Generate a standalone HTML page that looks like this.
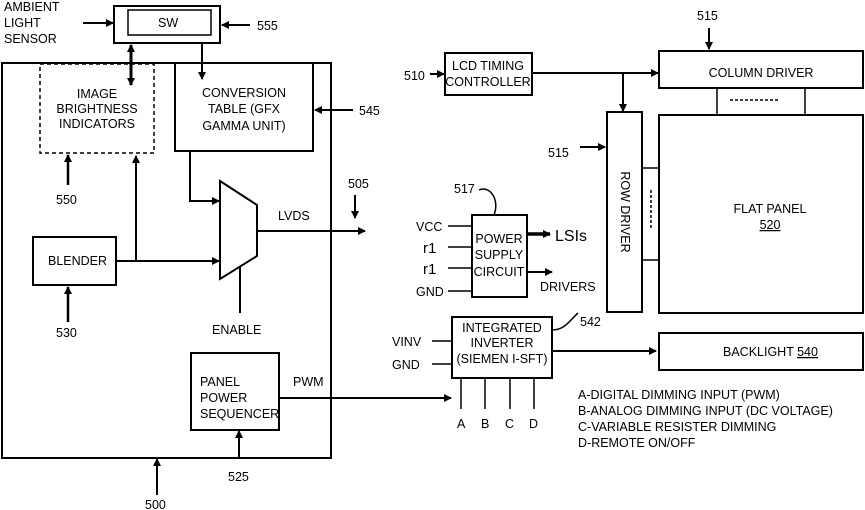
<!DOCTYPE html>
<html><head><style>
body{margin:0;background:#fff;}
svg{display:block;font-family:"Liberation Sans",sans-serif;font-size:12px;}
text{fill:#000;}
</style></head><body>
<svg width="865" height="510" viewBox="0 0 865 510">
<defs>
<marker id="a" markerWidth="8" markerHeight="8" refX="7" refY="4" orient="auto" markerUnits="userSpaceOnUse"><path d="M0,0 L8,4 L0,8z" fill="#000"/></marker>
</defs>
<g stroke="#000" stroke-width="2" fill="none">
<rect x="114" y="6" width="106" height="37"/>
<rect x="128" y="10" width="83" height="25" stroke-width="1.5"/>
<line x1="83" y1="23" x2="113" y2="23" marker-end="url(#a)"/>
<line x1="250" y1="25" x2="222" y2="25" marker-end="url(#a)"/>
<rect x="2" y="63" width="329" height="395"/>
<rect x="40" y="64" width="114" height="89" stroke-dasharray="4,3" stroke-width="1.5"/>
<line x1="131" y1="55" x2="131" y2="85" stroke-width="3" marker-end="url(#a)"/>
<line x1="131" y1="75" x2="131" y2="45" stroke-width="3" marker-end="url(#a)"/>
<rect x="175" y="63" width="138" height="88"/>
<line x1="202" y1="43" x2="202" y2="79" marker-end="url(#a)"/>
<line x1="353" y1="110" x2="315" y2="110" marker-end="url(#a)"/>
<line x1="68" y1="185" x2="68" y2="155" stroke-width="2.5" marker-end="url(#a)"/>
<path d="M220,181 L257,205 L257,256 L220,279 Z"/>
<polyline points="190,151 190,201 219,201" marker-end="url(#a)"/>
<rect x="33" y="237" width="83" height="48"/>
<line x1="116" y1="261" x2="219" y2="261" marker-end="url(#a)"/>
<line x1="136" y1="261" x2="136" y2="156" marker-end="url(#a)"/>
<line x1="257" y1="231" x2="365" y2="231" marker-end="url(#a)"/>
<line x1="355" y1="195" x2="355" y2="218" marker-end="url(#a)"/>
<line x1="240" y1="267" x2="240" y2="313"/>
<line x1="68" y1="322" x2="68" y2="287" stroke-width="2.5" marker-end="url(#a)"/>
<rect x="191" y="353" width="88" height="77"/>
<line x1="279" y1="398" x2="451" y2="398" marker-end="url(#a)"/>
<line x1="239" y1="458" x2="239" y2="431" marker-end="url(#a)"/>
<line x1="157" y1="495" x2="157" y2="459" marker-end="url(#a)"/>
<rect x="445" y="53" width="87" height="42"/>
<line x1="430" y1="74" x2="444" y2="74" marker-end="url(#a)"/>
<line x1="532" y1="73" x2="658" y2="73" marker-end="url(#a)"/>
<line x1="623" y1="73" x2="623" y2="111" marker-end="url(#a)"/>
<rect x="659" y="51" width="204" height="37"/>
<line x1="709" y1="28" x2="709" y2="49" marker-end="url(#a)"/>
<rect x="717" y="88" width="88" height="27" stroke-width="1.5"/>
<line x1="730" y1="100" x2="778" y2="100" stroke-width="1.5" stroke-dasharray="3,2"/>
<rect x="659" y="115" width="204" height="198"/>
<rect x="607" y="112" width="35" height="200"/>
<line x1="580" y1="147" x2="605" y2="147" marker-end="url(#a)"/>
<rect x="642" y="168" width="17" height="92" stroke-width="1.5"/>
<line x1="651" y1="190" x2="651" y2="230" stroke-width="1.5" stroke-dasharray="3,2"/>
<rect x="472" y="215" width="55" height="82"/>
<path d="M479,190 C490,185 500,200 494,215" stroke-width="1.5"/>
<line x1="448" y1="226" x2="472" y2="226" stroke-width="1.5"/>
<line x1="448" y1="247" x2="472" y2="247" stroke-width="1.5"/>
<line x1="448" y1="268" x2="472" y2="268" stroke-width="1.5"/>
<line x1="448" y1="291" x2="472" y2="291" stroke-width="1.5"/>
<line x1="527" y1="234" x2="550" y2="234" stroke-width="3.5" marker-end="url(#a)"/>
<line x1="527" y1="272" x2="552" y2="272" marker-end="url(#a)"/>
<rect x="452" y="317" width="100" height="61"/>
<path d="M552,330 C565,330 570,320 578,313" stroke-width="1.5"/>
<line x1="432" y1="341" x2="452" y2="341" stroke-width="1.5"/>
<line x1="432" y1="364" x2="452" y2="364" stroke-width="1.5"/>
<line x1="552" y1="351" x2="656" y2="351" marker-end="url(#a)"/>
<line x1="461" y1="378" x2="461" y2="409" stroke-width="1.5"/>
<line x1="485" y1="378" x2="485" y2="409" stroke-width="1.5"/>
<line x1="510" y1="378" x2="510" y2="409" stroke-width="1.5"/>
<line x1="534" y1="378" x2="534" y2="409" stroke-width="1.5"/>
<rect x="659" y="333" width="204" height="37"/>
</g>
<g font-size="12.5">
<text x="4" y="11">AMBIENT</text><text x="4" y="27">LIGHT</text><text x="4" y="43">SENSOR</text>
<text x="158" y="27">SW</text>
<text x="257" y="30">555</text>
<text x="97" y="98" text-anchor="middle">IMAGE</text>
<text x="97" y="113" text-anchor="middle">BRIGHTNESS</text>
<text x="97" y="128" text-anchor="middle">INDICATORS</text>
<text x="244" y="97" text-anchor="middle">CONVERSION</text>
<text x="244" y="113" text-anchor="middle">TABLE (GFX</text>
<text x="244" y="130" text-anchor="middle">GAMMA UNIT)</text>
<text x="359" y="115">545</text>
<text x="56" y="204">550</text>
<text x="348" y="188">505</text>
<text x="278" y="220">LVDS</text>
<text x="48" y="265">BLENDER</text>
<text x="212" y="334">ENABLE</text>
<text x="56" y="337">530</text>
<text x="200" y="386">PANEL</text><text x="200" y="402">POWER</text><text x="200" y="418">SEQUENCER</text>
<text x="293" y="386">PWM</text>
<text x="228" y="481">525</text>
<text x="145" y="509">500</text>
<text x="488" y="70" text-anchor="middle">LCD TIMING</text>
<text x="488" y="86" text-anchor="middle">CONTROLLER</text>
<text x="404" y="80">510</text>
<text x="697" y="20">515</text>
<text x="761" y="77" text-anchor="middle">COLUMN DRIVER</text>
<text x="548" y="157">515</text>
<text transform="translate(621,212) rotate(90)" text-anchor="middle">ROW DRIVER</text>
<text x="770" y="213" text-anchor="middle">FLAT PANEL</text>
<text x="770" y="229" text-anchor="middle" text-decoration="underline">520</text>
<text x="454" y="193">517</text>
<text x="416" y="231">VCC</text>
<text x="423" y="253" font-size="15">r1</text>
<text x="423" y="274" font-size="15">r1</text>
<text x="416" y="296">GND</text>
<text x="499" y="243" text-anchor="middle">POWER</text>
<text x="499" y="259" text-anchor="middle">SUPPLY</text>
<text x="499" y="276" text-anchor="middle">CIRCUIT</text>
<text x="555" y="241" font-size="16">LSIs</text>
<text x="540" y="291">DRIVERS</text>
<text x="502" y="332" text-anchor="middle">INTEGRATED</text>
<text x="502" y="347" text-anchor="middle">INVERTER</text>
<text x="502" y="363" text-anchor="middle">(SIEMEN I-SFT)</text>
<text x="580" y="326">542</text>
<text x="392" y="346">VINV</text>
<text x="392" y="369">GND</text>
<text x="457" y="428">A</text><text x="481" y="428">B</text><text x="505" y="428">C</text><text x="529" y="428">D</text>
<text x="723" y="356">BACKLIGHT <tspan text-decoration="underline">540</tspan></text>
<text x="578" y="399">A-DIGITAL DIMMING INPUT (PWM)</text>
<text x="578" y="415">B-ANALOG DIMMING INPUT (DC VOLTAGE)</text>
<text x="578" y="431">C-VARIABLE RESISTER DIMMING</text>
<text x="578" y="447">D-REMOTE ON/OFF</text>
</g>
</svg>
</body></html>
